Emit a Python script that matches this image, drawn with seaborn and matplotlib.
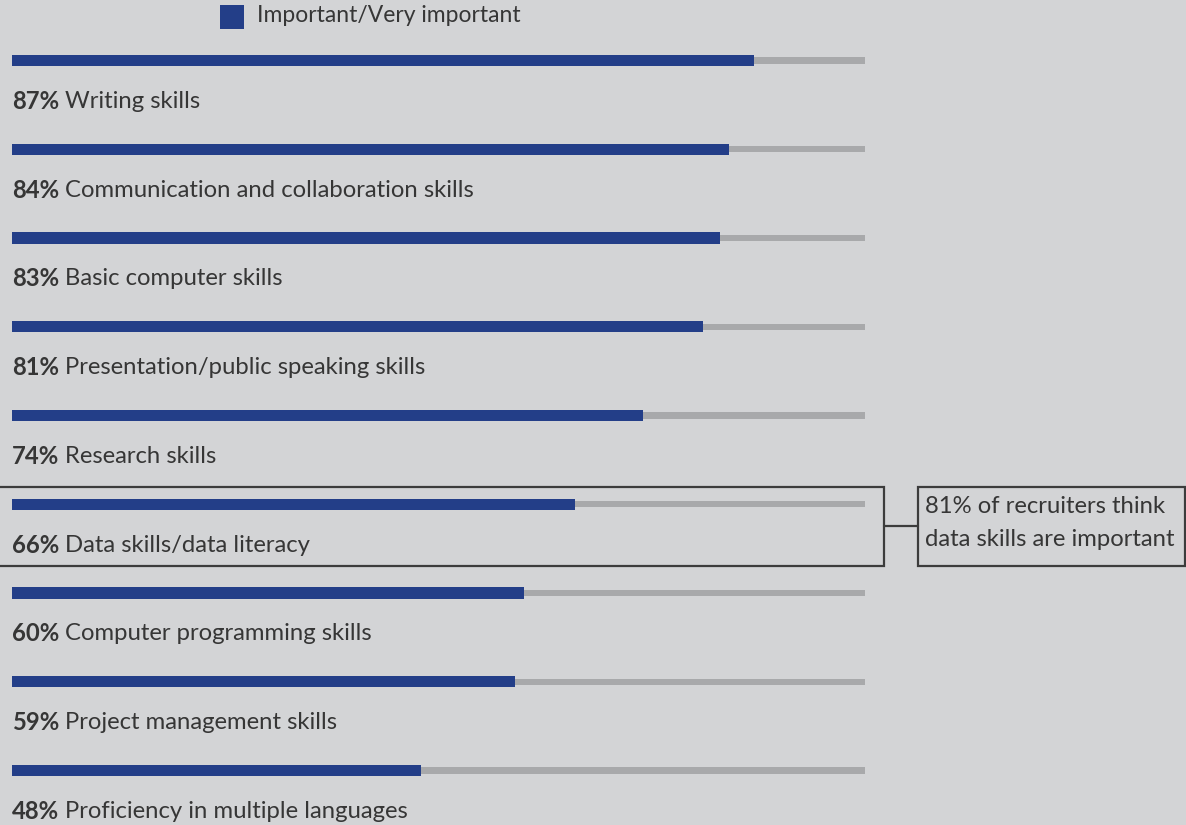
import matplotlib
matplotlib.use("Agg")
import matplotlib.pyplot as plt
from matplotlib.patches import Rectangle
import seaborn as sns
import pandas as pd

# data
skills = [
    "Writing skills",
    "Communication and collaboration skills",
    "Basic computer skills",
    "Presentation/public speaking skills",
    "Research skills",
    "Data skills/data literacy",
    "Computer programming skills",
    "Project management skills",
    "Proficiency in multiple languages",
]
important = [87, 84, 83, 81, 74, 66, 60, 59, 48]
full_scale = [100] * len(skills)
legend_label = "Important/Very important"
callout_text = "81% of recruiters think\ndata skills are important"
callout_row = "Data skills/data literacy"

BG = "#d3d4d6"
BLUE = "#233e88"
TRACK = "#a8a9ab"
TEXT = "#363636"
EDGE = "#3c3c3c"

sns.set_theme(style="white", rc={"figure.facecolor": BG, "axes.facecolor": BG})
plt.rcParams["font.family"] = ["Lato", "DejaVu Sans"]

df = pd.DataFrame({"skill": skills, "important": important, "full": full_scale})

W, H = 1186, 825
FS = 17.2
fig = plt.figure(figsize=(W / 100, H / 100), dpi=100)

# main axes: x from 0-100 maps onto pixels 12..865, rows are 88.75px apart
left_px, right_px = 12, 865
first_row_px, row_gap = 60.5, 88.75
ax = fig.add_axes([left_px / W, 0, (right_px - left_px) / W, 1])

sns.barplot(data=df, y="skill", x="full", orient="h", color=TRACK,
            width=0.068, saturation=1, ax=ax)
sns.barplot(data=df, y="skill", x="important", orient="h", color=BLUE,
            width=0.124, saturation=1, ax=ax)
for p in ax.patches:
    p.set_edgecolor("none")
    p.set_linewidth(0)

ax.set_xlim(0, 100)
ax.set_ylim((H - first_row_px) / row_gap, -first_row_px / row_gap)
ax.axis("off")

# labels: bold percentage then plain name, under each bar
fig.canvas.draw()
renderer = fig.canvas.get_renderer()
for i, (name, val) in enumerate(zip(skills, important)):
    t = ax.text(0, i + 0.46, f"{val}%", fontsize=FS, fontweight="bold",
                color=TEXT, va="center", ha="left")
    bb = t.get_window_extent(renderer=renderer)
    x_end = ax.transData.inverted().transform((bb.x1 + 6, 0))[0]
    ax.text(x_end, i + 0.46, name, fontsize=FS, color=TEXT,
            va="center", ha="left")

# overlay axes in pixel units for legend and callout
ov = fig.add_axes([0, 0, 1, 1], facecolor="none")
ov.set_xlim(0, W)
ov.set_ylim(H, 0)
ov.axis("off")

ov.add_patch(Rectangle((220, 5), 24, 24, color=BLUE, lw=0))
ov.text(257, 15, legend_label, fontsize=16.5, color=TEXT, va="center", ha="left")

# highlight box around the data skills row
r = skills.index(callout_row)
top = first_row_px + r * row_gap - 17.5
bottom = first_row_px + r * row_gap + 61.5
ov.add_patch(Rectangle((-2, top), 886, bottom - top, fill=False, ec=EDGE, lw=1.6))
mid = (top + bottom) / 2
ov.plot([884, 918], [mid, mid], color=EDGE, lw=1.6)
ov.add_patch(Rectangle((918, top), 267, bottom - top, fill=False, ec=EDGE, lw=1.6))
ov.text(925, mid - 3, callout_text, fontsize=FS, color=TEXT, va="center",
        ha="left", linespacing=1.68)

fig.savefig("out.png", dpi=100, facecolor=BG)
